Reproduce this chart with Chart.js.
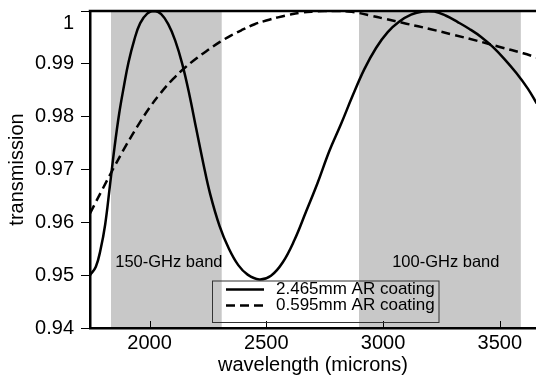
<!DOCTYPE html>
<html><head><meta charset="utf-8">
<script src="https://cdn.jsdelivr.net/npm/chart.js@4/dist/chart.umd.min.js"></script>
<style>html,body{margin:0;padding:0;background:#fff}#wrap{width:536px;height:384px}</style>
</head><body><div id="wrap"><canvas id="c" width="536" height="384"></canvas></div>
<script>
const seriesLabels = ['2.465mm AR coating', '0.595mm AR coating'];
const thickWavelengths = [1745,1770,1790,1810,1830,1850,1870,1890,1910,1935,1960,1990,2020,2050,2080,2110,2140,2170,2200,2230,2260,2300,2340,2380,2420,2470,2520,2570,2620,2670,2720,2770,2820,2870,2920,2970,3020,3070,3120,3170,3220,3270,3320,3370,3420,3470,3520,3570,3620,3658];
const thickValues = [0.9500,0.9516,0.9548,0.9596,0.9668,0.9742,0.9806,0.9857,0.9903,0.9946,0.9977,0.9995,1.0000,0.9994,0.9975,0.9944,0.9900,0.9843,0.9777,0.9712,0.9653,0.9593,0.9550,0.9519,0.9501,0.9492,0.9499,0.9524,0.9566,0.9620,0.9675,0.9735,0.9786,0.9840,0.9890,0.9930,0.9960,0.9980,0.9993,0.9999,0.9999,0.9991,0.9979,0.9966,0.9951,0.9932,0.9909,0.9883,0.9853,0.9825];
const thinWavelengths = [1745,1800,1850,1900,1950,2000,2050,2100,2150,2200,2250,2300,2350,2400,2450,2500,2550,2600,2650,2700,2750,2800,2850,2900,2950,3000,3100,3200,3300,3400,3500,3600,3658];
const thinValues = [0.9617,0.9664,0.9706,0.9746,0.9783,0.9817,0.9846,0.9871,0.9892,0.9910,0.9926,0.9941,0.9954,0.9965,0.9975,0.9982,0.9988,0.9993,0.9997,0.9999,1.0000,1.0000,0.9999,0.9996,0.9991,0.9986,0.9976,0.9966,0.9955,0.9944,0.9932,0.9920,0.9912];
const xTicks = [2000, 2500, 3000, 3500];
const yTicks = [0.94, 0.95, 0.96, 0.97, 0.98, 0.99, 1.0];
const bandStarts = [1835, 2897];
const bandEnds = [2309, 3590];
const bandLabels = ['150-GHz band', '100-GHz band'];
const bandLabelX = [1853, 3039];
const bandLabelY = 0.9524;

const FONT = '"Liberation Sans", Arial, Helvetica, sans-serif';

const decor = {
  id: 'decor',
  beforeDraw(chart) {
    const {ctx, chartArea: a, scales: {x, y}} = chart;
    ctx.save();
    ctx.fillStyle = '#c8c8c8';
    for (let i = 0; i < bandStarts.length; i++) {
      const x0 = x.getPixelForValue(bandStarts[i]);
      const x1 = x.getPixelForValue(bandEnds[i]);
      ctx.fillRect(x0, a.top, x1 - x0, a.bottom - a.top);
    }
    ctx.fillStyle = '#000';
    ctx.font = '16.5px ' + FONT;
    ctx.textAlign = 'left';
    ctx.textBaseline = 'middle';
    for (let i = 0; i < bandLabels.length; i++) {
      ctx.fillText(bandLabels[i], x.getPixelForValue(bandLabelX[i]), y.getPixelForValue(bandLabelY));
    }
    ctx.restore();
  },
  afterDatasetsDraw(chart) {
    const {ctx, chartArea: a, scales: {x}} = chart;
    ctx.save();
    ctx.strokeStyle = '#000';
    ctx.lineWidth = 2.5;
    ctx.beginPath();
    ctx.moveTo(a.left - 1.25, a.top);
    ctx.lineTo(a.right, a.top);
    ctx.stroke();
    ctx.lineWidth = 1;
    xTicks.forEach(v => {
      const px = Math.round(x.getPixelForValue(v)) + 0.5;
      ctx.beginPath();
      ctx.moveTo(px, a.bottom - 7);
      ctx.lineTo(px, a.bottom);
      ctx.stroke();
    });
    const lx = a.left + 122.5, ly = a.bottom - 47, lw = 226.5, lh = 41.5;
    ctx.strokeStyle = '#333';
    ctx.lineWidth = 1;
    ctx.strokeRect(lx, ly, lw, lh);
    ctx.font = '17px ' + FONT;
    ctx.textBaseline = 'middle';
    ctx.textAlign = 'left';
    chart.data.datasets.forEach((ds, i) => {
      const yy = ly + 8.5 + i * 16;
      ctx.strokeStyle = '#000';
      ctx.lineWidth = ds.borderWidth;
      ctx.setLineDash(ds.borderDash || []);
      ctx.beginPath();
      ctx.moveTo(lx + 13.5, yy);
      ctx.lineTo(lx + 51.5, yy);
      ctx.stroke();
      ctx.setLineDash([]);
      ctx.fillStyle = '#000';
      ctx.fillText(ds.label, lx + 63.5, yy);
    });
    ctx.restore();
  }
};

new Chart(document.getElementById('c'), {
  type: 'line',
  data: {
    datasets: [
      {label: seriesLabels[0], data: thickWavelengths.map((w, i) => ({x: w, y: thickValues[i]})),
       borderColor: '#000', borderWidth: 2.5, pointRadius: 0, tension: 0.4, fill: false},
      {label: seriesLabels[1], data: thinWavelengths.map((w, i) => ({x: w, y: thinValues[i]})),
       borderColor: '#000', borderWidth: 2.5, borderDash: [9, 5], pointRadius: 0, tension: 0.4, fill: false}
    ]
  },
  options: {
    responsive: false,
    animation: false,
    devicePixelRatio: 1,
    layout: {padding: {top: 11, left: 0, right: 0, bottom: 0}},
    plugins: {legend: {display: false}, tooltip: {enabled: false}},
    scales: {
      x: {
        type: 'linear', min: 1745, max: 3655,
        afterBuildTicks: s => { s.ticks = xTicks.map(v => ({value: v})); },
        afterFit: s => { s.height = 56; s.paddingLeft = 0; s.paddingRight = 0; },
        ticks: {color: '#000', font: {family: FONT, size: 20}, padding: 3, maxRotation: 0, callback: v => String(v)},
        grid: {drawOnChartArea: false, drawTicks: false},
        border: {display: true, color: '#000', width: 2.5},
        title: {display: true, text: 'wavelength (microns)', color: '#000', font: {family: FONT, size: 20}, padding: {top: 0, bottom: 7}}
      },
      y: {
        type: 'linear', min: 0.94, max: 1.0,
        afterBuildTicks: s => { s.ticks = yTicks.map(v => ({value: v})); },
        afterFit: s => { s.width = 90; s.paddingTop = 0; s.paddingBottom = 0; },
        ticks: {color: '#000', font: {family: FONT, size: 20}, padding: 7,
                callback: v => (v === 1 ? ['', '1'] : v.toFixed(2))},
        grid: {drawOnChartArea: false, drawTicks: true, tickLength: 9, tickWidth: 1, tickColor: '#000'},
        border: {display: true, color: '#000', width: 2.5},
        title: {display: true, text: 'transmission', color: '#000', font: {family: FONT, size: 20}, padding: {top: 5, bottom: 0}}
      }
    }
  },
  plugins: [decor]
});
</script></body></html>
